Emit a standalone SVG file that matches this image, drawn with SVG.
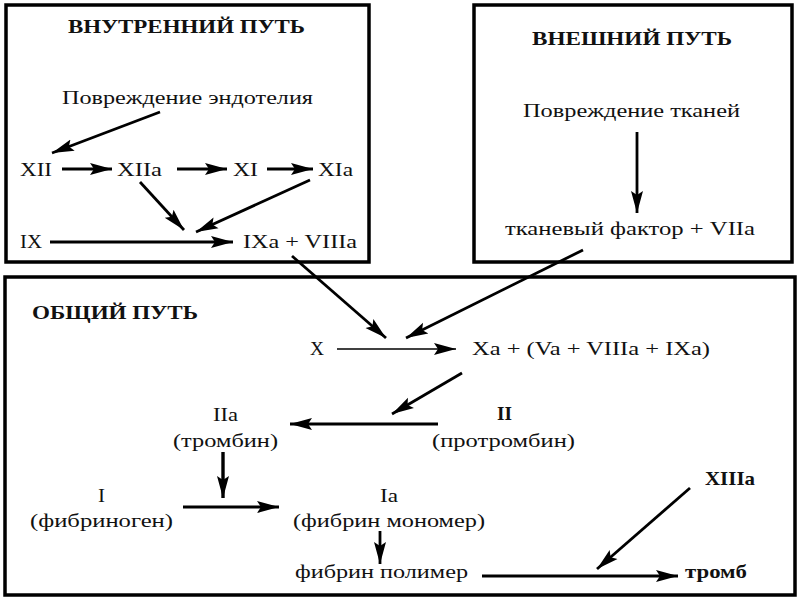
<svg xmlns="http://www.w3.org/2000/svg" width="800" height="600" viewBox="0 0 800 600">
<style>
.box{fill:none;stroke:#000;stroke-width:3.5}
text{font-family:"Liberation Serif","Times New Roman",serif;fill:#111;font-size:19px}
.b{font-weight:bold}
.c line{stroke:#000;stroke-width:2.8;marker-end:url(#ah)}
.c line.thin{stroke-width:1.7}
</style>
<defs>
<marker id="ah" markerUnits="userSpaceOnUse" markerWidth="24" markerHeight="14" refX="22" refY="6" orient="auto" viewBox="0 0 24 12">
<path d="M0,0 L22,6 L0,12 L4,6 z" fill="#000"/>
</marker>
</defs>
<rect width="800" height="600" fill="#fff"/>
<g id="intrinsic">
<rect class="box" x="6" y="5" width="363" height="257"/>
<text class="b" x="68" y="33" textLength="237" lengthAdjust="spacingAndGlyphs">ВНУТРЕННИЙ ПУТЬ</text>
</g>
<g id="extrinsic">
<rect class="box" x="474" y="5" width="318" height="257"/>
<text class="b" x="532" y="45" textLength="200" lengthAdjust="spacingAndGlyphs" font-size="18">ВНЕШНИЙ ПУТЬ</text>
</g>
<g id="common">
<rect class="box" x="5" y="277" width="790" height="318"/>
<text class="b" x="32" y="319" textLength="166" lengthAdjust="spacingAndGlyphs" font-size="18">ОБЩИЙ ПУТЬ</text>
</g>
<g id="endothelium"><text x="62" y="104" textLength="251" lengthAdjust="spacingAndGlyphs" font-size="18">Повреждение эндотелия</text></g>
<g id="XII"><text x="20" y="176" textLength="32" lengthAdjust="spacingAndGlyphs" font-size="21">XII</text></g>
<g id="XIIa"><text x="117" y="176" textLength="45" lengthAdjust="spacingAndGlyphs" font-size="21">XIIa</text></g>
<g id="XI"><text x="233" y="176" textLength="25" lengthAdjust="spacingAndGlyphs" font-size="21">XI</text></g>
<g id="XIa"><text x="318" y="176" textLength="35" lengthAdjust="spacingAndGlyphs" font-size="21">XIa</text></g>
<g id="IX"><text x="20" y="248" textLength="22" lengthAdjust="spacingAndGlyphs">IX</text></g>
<g id="IXa"><text x="243" y="248" textLength="114" lengthAdjust="spacingAndGlyphs">IXa + VIIIa</text></g>
<g id="tissue"><text x="523" y="117" textLength="217" lengthAdjust="spacingAndGlyphs" font-size="18">Повреждение тканей</text></g>
<g id="TF"><text x="505" y="235" textLength="250" lengthAdjust="spacingAndGlyphs" font-size="18">тканевый фактор + VIIa</text></g>
<g id="X"><text x="310" y="355" textLength="14" lengthAdjust="spacingAndGlyphs">X</text></g>
<g id="Xa"><text x="472" y="355" textLength="238" lengthAdjust="spacingAndGlyphs">Xa + (Va + VIIIa + IXa)</text></g>
<g id="II"><text class="b" x="497" y="420" textLength="15" lengthAdjust="spacingAndGlyphs">II</text><text x="432" y="447" textLength="143" lengthAdjust="spacingAndGlyphs">(протромбин)</text></g>
<g id="IIa"><text x="213" y="421" textLength="25" lengthAdjust="spacingAndGlyphs">IIa</text><text x="173" y="447" textLength="105" lengthAdjust="spacingAndGlyphs">(тромбин)</text></g>
<g id="I"><text x="98" y="502" textLength="7" lengthAdjust="spacingAndGlyphs">I</text><text x="30" y="527" textLength="143" lengthAdjust="spacingAndGlyphs">(фибриноген)</text></g>
<g id="Ia"><text x="380" y="502" textLength="18" lengthAdjust="spacingAndGlyphs">Ia</text><text x="293" y="527" textLength="192" lengthAdjust="spacingAndGlyphs">(фибрин мономер)</text></g>
<g id="polymer"><text x="295" y="578" textLength="173" lengthAdjust="spacingAndGlyphs" font-size="18">фибрин полимер</text></g>
<g id="thrombus"><text class="b" x="685" y="578" textLength="62" lengthAdjust="spacingAndGlyphs" font-size="18">тромб</text></g>
<g id="XIIIa"><text class="b" x="705" y="485" textLength="50" lengthAdjust="spacingAndGlyphs">XIIIa</text></g>
<g id="connectors" class="c">
<line x1="160" y1="112" x2="52" y2="153"/>
<line x1="62" y1="169" x2="112" y2="169"/>
<line x1="177" y1="169" x2="227" y2="169"/>
<line x1="267" y1="169" x2="313" y2="169"/>
<line x1="140" y1="182" x2="184" y2="230"/>
<line x1="310" y1="180" x2="196" y2="232"/>
<line x1="50" y1="242" x2="233" y2="242"/>
<line x1="637" y1="132" x2="637" y2="213"/>
<line x1="292" y1="256" x2="386" y2="338"/>
<line x1="583" y1="250" x2="406" y2="338"/>
<line class="thin" x1="337" y1="349" x2="456" y2="349"/>
<line x1="462" y1="373" x2="392" y2="414"/>
<line x1="438" y1="424" x2="290" y2="424"/>
<line x1="223" y1="452" x2="223" y2="498" style="stroke-width:3.4"/>
<line x1="183" y1="507" x2="279" y2="507"/>
<line x1="380" y1="531" x2="380" y2="564"/>
<line x1="482" y1="576" x2="678" y2="576"/>
<line x1="690" y1="488" x2="597" y2="569"/>
</g>
</svg>
